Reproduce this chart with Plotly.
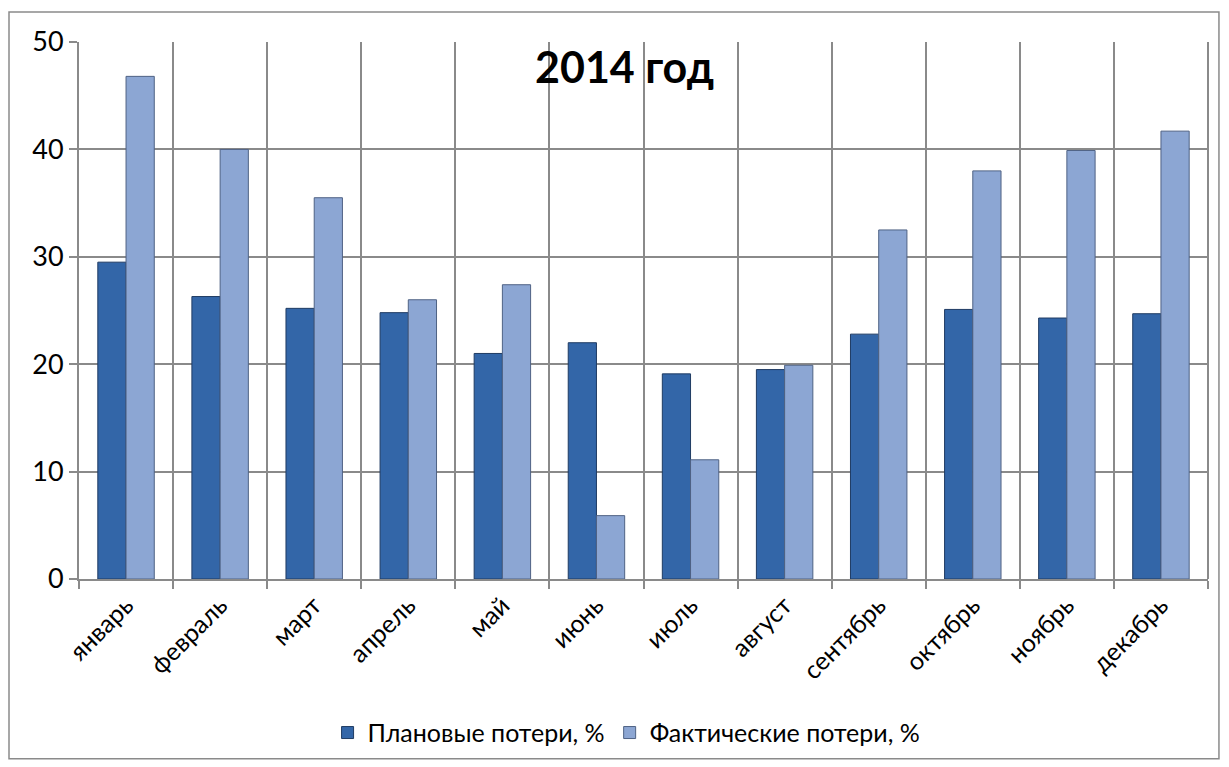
import plotly.graph_objects as go

months = ["январь", "февраль", "март", "апрель", "май", "июнь",
          "июль", "август", "сентябрь", "октябрь", "ноябрь", "декабрь"]
plan = [29.5, 26.3, 25.2, 24.8, 21.0, 22.0, 19.1, 19.5, 22.8, 25.1, 24.3, 24.7]
fact = [46.8, 40.0, 35.5, 26.0, 27.4, 5.9, 11.1, 19.9, 32.5, 38.0, 39.9, 41.7]
y_ticks = [0, 10, 20, 30, 40, 50]

FONT = "Lato"
GRID = "#8a8a8a"

fig = go.Figure()
fig.add_trace(go.Bar(
    x=months, y=plan, name="Плановые потери, %",
    marker=dict(color="#3366a8", line=dict(color="#1f3b63", width=1)),
))
fig.add_trace(go.Bar(
    x=months, y=fact, name="Фактические потери, %",
    marker=dict(color="#8ca6d3", line=dict(color="#4f6284", width=1)),
))

fig.update_layout(
    width=1229, height=767,
    margin=dict(l=79, r=21, t=42, b=187),
    paper_bgcolor="white", plot_bgcolor="white",
    barmode="group", bargap=0.4, bargroupgap=0,
    font=dict(family=FONT, size=25, color="black"),
    showlegend=True,
    legend=dict(orientation="h", x=0.485, xanchor="center", y=-0.284, yanchor="middle",
                font=dict(family=FONT, size=25), itemwidth=30, traceorder="normal"),
    annotations=[dict(
        text="<b>2014 год</b>", xref="paper", yref="paper",
        x=0.4836, y=0.955, xanchor="center", yanchor="middle", showarrow=False,
        font=dict(family=FONT, size=43, color="black"),
    )],
    shapes=[dict(type="rect", xref="paper", yref="paper",
                 x0=-0.062, x1=1.0097, y0=-0.3346, y1=1.0558,
                 line=dict(color="#8a8a8a", width=1.5), fillcolor="rgba(0,0,0,0)", layer="below")],
)

fig.update_xaxes(
    type="category", tickson="boundaries", showgrid=True, gridcolor=GRID, gridwidth=2,
    ticks="outside", ticklen=8, tickcolor=GRID, tickwidth=2,
    showline=True, linecolor=GRID, linewidth=2, mirror=False,
    tickangle=-45, tickfont=dict(family=FONT, size=25),
)
fig.update_yaxes(
    range=[0, 50], tickvals=y_ticks, showgrid=True, gridcolor=GRID, gridwidth=2,
    ticks="outside", ticklen=8, tickcolor=GRID, tickwidth=2,
    showline=True, linecolor=GRID, linewidth=2, zeroline=False,
    tickfont=dict(family=FONT, size=27),
)
# right border of plot area
fig.add_shape(type="line", xref="paper", yref="paper", x0=1, x1=1, y0=0, y1=1,
              line=dict(color=GRID, width=2))

fig.write_html("out.html")
